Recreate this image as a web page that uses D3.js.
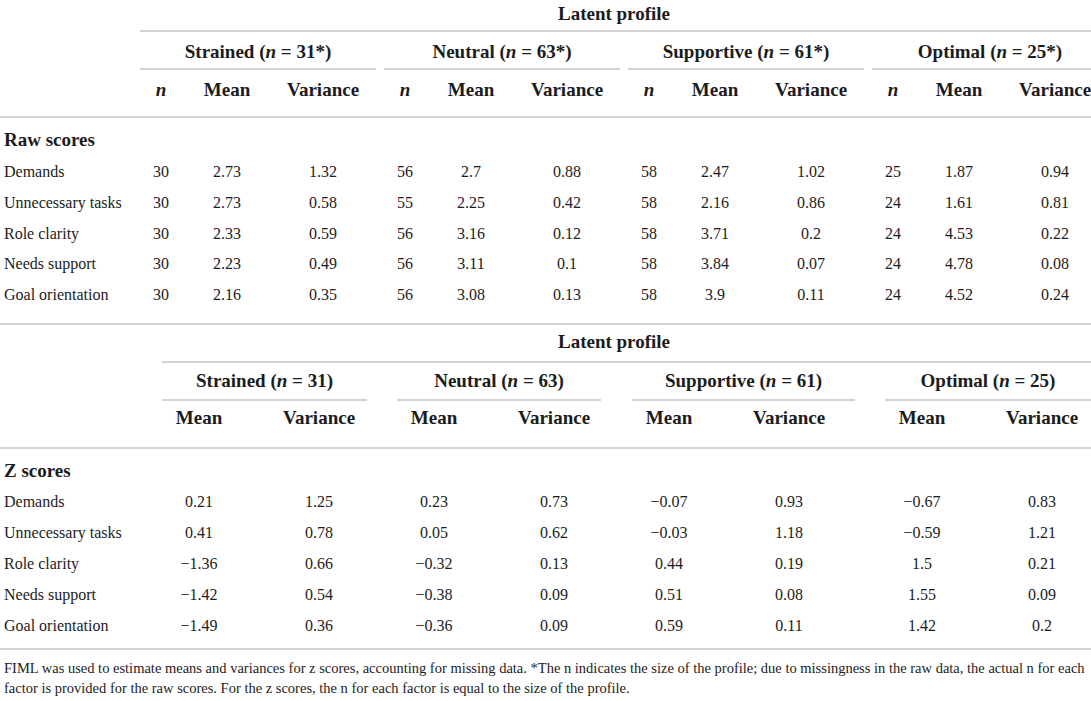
<!DOCTYPE html>
<html>
<head>
<meta charset="utf-8">
<script src="https://cdn.jsdelivr.net/npm/d3@7"></script>
<style>
body { margin: 0; background: #fff; }
text { font-family: "Liberation Serif", "DejaVu Serif", serif; fill: #1c1c1c; }
</style>
</head>
<body>
<svg id="chart" width="1091" height="701"></svg>
<script>
var factors = ["Demands", "Unnecessary tasks", "Role clarity", "Needs support", "Goal orientation"]
var profiles = ["Strained", "Neutral", "Supportive", "Optimal"]
var profileSizes = [31, 63, 61, 25]

// raw scores, one array per profile, in factor order
var rawN = [[30, 30, 30, 30, 30], [56, 55, 56, 56, 56], [58, 58, 58, 58, 58], [25, 24, 24, 24, 24]]
var rawMean = [[2.73, 2.73, 2.33, 2.23, 2.16], [2.7, 2.25, 3.16, 3.11, 3.08], [2.47, 2.16, 3.71, 3.84, 3.9], [1.87, 1.61, 4.53, 4.78, 4.52]]
var rawVar = [[1.32, 0.58, 0.59, 0.49, 0.35], [0.88, 0.42, 0.12, 0.1, 0.13], [1.02, 0.86, 0.2, 0.07, 0.11], [0.94, 0.81, 0.22, 0.08, 0.24]]

// z scores
var zMean = [[0.21, 0.41, -1.36, -1.42, -1.49], [0.23, 0.05, -0.32, -0.38, -0.36], [-0.07, -0.03, 0.44, 0.51, 0.59], [-0.67, -0.59, 1.5, 1.55, 1.42]]
var zVar = [[1.25, 0.78, 0.66, 0.54, 0.36], [0.73, 0.62, 0.13, 0.09, 0.09], [0.93, 1.18, 0.19, 0.08, 0.11], [0.83, 1.21, 0.21, 0.09, 0.2]]

var noteLines = [
    "FIML was used to estimate means and variances for z scores, accounting for missing data. *The n indicates the size of the profile; due to missingness in the raw data, the actual n for each",
    "factor is provided for the raw scores. For the z scores, the n for each factor is equal to the size of the profile."
]

var svg = d3.select("#chart")
var W = 1091
var lineColor = "#d2d2d2"

function fmt(v) {
    return String(v).replace("-", "\u2212")
}

function hline(x1, x2, y) {
    svg.append("line")
        .attr("x1", x1).attr("x2", x2)
        .attr("y1", y).attr("y2", y)
        .attr("stroke", lineColor)
        .attr("stroke-width", 1.8)
}

function label(x, y, txt, opts) {
    opts = opts || {}
    return svg.append("text")
        .attr("x", x).attr("y", y)
        .attr("text-anchor", opts.anchor || "middle")
        .style("font-size", (opts.size || 16) + "px")
        .style("font-weight", opts.bold ? "bold" : null)
        .style("font-style", opts.italic ? "italic" : null)
        .text(txt)
}

function groupTitle(x, y, i, star) {
    var t = label(x, y, "", { bold: true, size: 19 })
    t.append("tspan").text(profiles[i] + " (")
    t.append("tspan").style("font-style", "italic").text("n")
    t.append("tspan").text(" = " + profileSizes[i] + (star ? "*" : "") + ")")
}

// ---------- raw scores table ----------
var gx = d3.scaleBand().domain(profiles).range([140, 1108]).paddingInner(0.033).paddingOuter(0)
var rawCol = d3.scaleOrdinal().domain(["n", "Mean", "Variance"]).range([21, 87, 183])
var rawY = d3.scalePoint().domain(factors).range([172, 295])

label(614, 20, "Latent profile", { bold: true, size: 19 })
hline(140, W, 31)

profiles.forEach(function(p, i) {
    var x0 = gx(p)
    groupTitle(x0 + gx.bandwidth() / 2, 58, i, true)
    hline(x0, Math.min(x0 + gx.bandwidth(), W), 69)
    rawCol.domain().forEach(function(c) {
        label(x0 + rawCol(c), 96, c, { bold: true, size: 19, italic: c === "n" })
    })
})
hline(0, W, 117)
label(4, 146, "Raw scores", { bold: true, size: 19, anchor: "start" })

factors.forEach(function(f, r) {
    var y = rawY(f) + 5
    label(4, y, f, { anchor: "start" })
    profiles.forEach(function(p, i) {
        var x0 = gx(p)
        label(x0 + rawCol("n"), y, fmt(rawN[i][r]))
        label(x0 + rawCol("Mean"), y, fmt(rawMean[i][r]))
        label(x0 + rawCol("Variance"), y, fmt(rawVar[i][r]))
    })
})
hline(0, W, 324)

// ---------- z scores table ----------
var zStart = d3.scaleOrdinal().domain(profiles).range([162, 397, 632, 885])
var zWidth = d3.scaleOrdinal().domain(profiles).range([205, 204, 223, 206])
var zCol = d3.scaleOrdinal().domain(["Mean", "Variance"]).range([37, 157])
var zY = d3.scalePoint().domain(factors).range([502, 626])

label(614, 348, "Latent profile", { bold: true, size: 19 })
hline(162, W, 362)

profiles.forEach(function(p, i) {
    var x0 = zStart(p)
    groupTitle(x0 + zWidth(p) / 2, 387, i, false)
    hline(x0, Math.min(x0 + zWidth(p), W), 400)
    zCol.domain().forEach(function(c) {
        label(x0 + zCol(c), 424, c, { bold: true, size: 19 })
    })
})
hline(0, W, 448)
label(4, 477, "Z scores", { bold: true, size: 19, anchor: "start" })

factors.forEach(function(f, r) {
    var y = zY(f) + 5
    label(4, y, f, { anchor: "start" })
    profiles.forEach(function(p, i) {
        var x0 = zStart(p)
        label(x0 + zCol("Mean"), y, fmt(zMean[i][r]))
        label(x0 + zCol("Variance"), y, fmt(zVar[i][r]))
    })
})
hline(0, W, 649)

// footnote
noteLines.forEach(function(t, i) {
    label(4, 673 + i * 20, t, { anchor: "start", size: 14.5 })
})
</script>
</body>
</html>
